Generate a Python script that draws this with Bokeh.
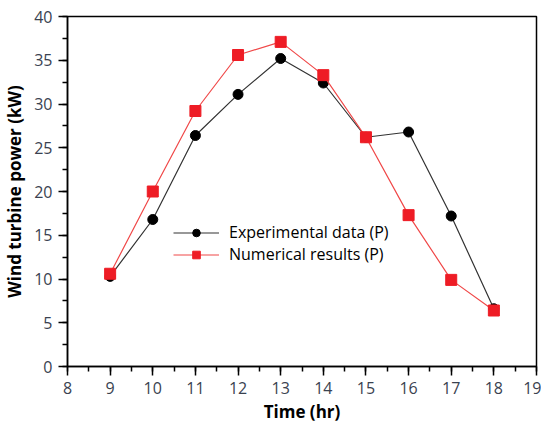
from bokeh.plotting import figure
from bokeh.models import Range1d, SingleIntervalTicker, Legend, LegendItem
from bokeh.embed import file_html
from bokeh.resources import INLINE

hours = [9, 10, 11, 12, 13, 14, 15, 16, 17, 18]
experimental = [10.3, 16.8, 26.4, 31.1, 35.2, 32.4, 26.2, 26.8, 17.2, 6.6]
numerical = [10.6, 20.0, 29.2, 35.6, 37.1, 33.3, 26.2, 17.3, 9.9, 6.4]

FONT = "Open Sans"
TICK_COLOR = "#3a4250"

p = figure(width=541, height=427, output_backend="svg", toolbar_location=None,
           x_range=Range1d(8, 19), y_range=Range1d(0, 40),
           min_border_left=66, min_border_right=5, min_border_top=16, min_border_bottom=61)
p.grid.visible = False
p.background_fill_color = "white"
p.border_fill_color = "white"
p.outline_line_color = "black"
p.outline_line_width = 1.5

p.xaxis.ticker = SingleIntervalTicker(interval=1, num_minor_ticks=2)
p.yaxis.ticker = SingleIntervalTicker(interval=5, num_minor_ticks=2)
for ax in (p.xaxis, p.yaxis):
    ax.axis_line_color = "black"
    ax.axis_line_width = 1.5
    ax.major_tick_in = 0
    ax.major_tick_out = 9
    ax.minor_tick_in = 0
    ax.minor_tick_out = 5
    ax.major_tick_line_width = 1.5
    ax.minor_tick_line_width = 1.5
    ax.major_label_text_font = FONT
    ax.major_label_text_font_size = "16px"
    ax.major_label_text_color = TICK_COLOR
    ax.major_label_standoff = 6
    ax.axis_label_text_font = FONT
    ax.axis_label_text_font_size = "17px"
    ax.axis_label_text_font_style = "bold"
    ax.axis_label_text_color = "black"

p.xaxis.axis_label = "Time (hr)"
p.yaxis.axis_label = "Wind turbine power (kW)"
p.xaxis.axis_label_standoff = 3
p.yaxis.axis_label_standoff = 5

l1 = p.line(hours, experimental, line_color="#333333", line_width=1.2)
s1 = p.scatter(hours, experimental, marker="circle", size=10, fill_color="black", line_color="black")
l2 = p.line(hours, numerical, line_color="#f04848", line_width=1.2)
s2 = p.scatter(hours, numerical, marker="square", size=11, fill_color="#ee1c25", line_color="#ee1c25")

legend = Legend(items=[LegendItem(label="Experimental data (P)", renderers=[l1, s1]),
                       LegendItem(label="Numerical results (P)", renderers=[l2, s2])],
                location=(106, 101), padding=0, margin=0, spacing=0,
                glyph_width=46, glyph_height=19, label_height=19, label_standoff=10,
                label_text_font=FONT, label_text_font_size="16px", label_text_color="black",
                border_line_color=None, background_fill_alpha=0)
p.add_layout(legend)

open("out.html", "w").write(file_html(p, INLINE))
